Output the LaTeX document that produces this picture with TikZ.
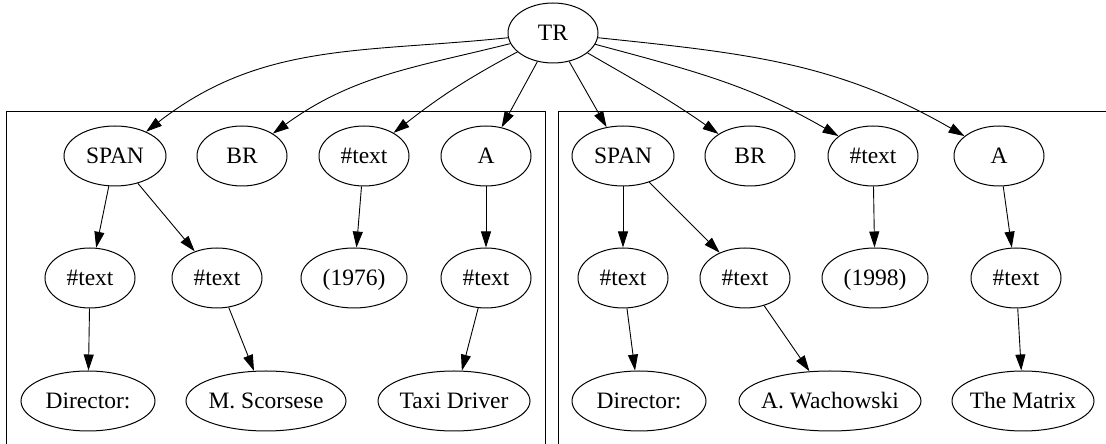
\documentclass[tikz,border=0pt]{standalone}
\usepackage{fontspec}
\setmainfont{LiberationSerif}[Extension=.ttf, UprightFont=*-Regular, BoldFont=*-Bold]
\usetikzlibrary{shapes.geometric,arrows.meta}
% label inside an ellipse: zero width so the ellipse size is set by minimum width only
\newcommand\lbltext[1]{\makebox[0pt]{#1}}
\begin{document}
\begin{tikzpicture}[x=1pt,y=1pt,
  vert/.style={ellipse, draw, line width=1pt, minimum height=60pt, inner sep=0pt,
    font=\fontsize{23.5}{27}\selectfont, text height=15.5pt, text depth=0pt},
  link/.style={line width=0.9pt, -{Triangle[length=16pt,width=10pt]}},
  cluster/.style={line width=1pt}]
\useasboundingbox (0,0) rectangle (1106,444);
\fill[white] (0,0) rectangle (1106,444);
\clip (0,0) rectangle (1106,444);

% clusters
\draw[cluster] (6,-5) rectangle (545,332);
\draw[cluster] (558,-5) rectangle (1120,332);

% root
\node[vert, minimum width=90pt] (tr) at (553,411) {\lbltext{TR}};

% first cluster
\node[vert, minimum width=102pt] (spanL) at (115,288) {\lbltext{SPAN}};
\node[vert, minimum width=90pt]  (brL)   at (242,288) {\lbltext{BR}};
\node[vert, minimum width=90pt]  (txtL)  at (364,288) {\lbltext{\#text}};
\node[vert, minimum width=90pt]  (aL)    at (486,288) {\lbltext{A}};
\node[vert, minimum width=90pt]  (saL)   at (90,166)  {\lbltext{\#text}};
\node[vert, minimum width=90pt]  (sbL)   at (217,166) {\lbltext{\#text}};
\node[vert, minimum width=106pt] (yrL)   at (354,166) {\lbltext{(1976)}};
\node[vert, minimum width=90pt]  (atL)   at (486,166) {\lbltext{\#text}};
\node[vert, minimum width=134pt] (dirL)  at (88,43)   {\lbltext{Director:}};
\node[vert, minimum width=160pt] (nameL) at (266,43)  {\lbltext{M. Scorsese}};
\node[vert, minimum width=152pt] (ttlL)  at (454,43)  {\lbltext{Taxi Driver}};

% second cluster
\node[vert, minimum width=102pt] (spanR) at (623,288) {\lbltext{SPAN}};
\node[vert, minimum width=90pt]  (brR)   at (750,288) {\lbltext{BR}};
\node[vert, minimum width=90pt]  (txtR)  at (873,288) {\lbltext{\#text}};
\node[vert, minimum width=90pt]  (aR)    at (999,288) {\lbltext{A}};
\node[vert, minimum width=90pt]  (saR)   at (623,166) {\lbltext{\#text}};
\node[vert, minimum width=90pt]  (sbR)   at (745,166) {\lbltext{\#text}};
\node[vert, minimum width=106pt] (yrR)   at (875,166) {\lbltext{(1998)}};
\node[vert, minimum width=90pt]  (atR)   at (1016,166) {\lbltext{\#text}};
\node[vert, minimum width=134pt] (dirR)  at (639,43)  {\lbltext{Director:}};
\node[vert, minimum width=182pt] (nameR) at (830,43)  {\lbltext{A. Wachowski}};
\node[vert, minimum width=142pt] (ttlR)  at (1023,43) {\lbltext{The Matrix}};

% edges from the root
\draw[link] (tr) to[out=186,in=38]  (spanL);
\draw[link] (tr) to[out=194,in=36]  (brL);
\draw[link] (tr) to[out=208,in=38]  (txtL);
\draw[link] (tr) -- (aL);
\draw[link] (tr) -- (spanR);
\draw[link] (tr) to[out=330,in=145] (brR);
\draw[link] (tr) to[out=345,in=150] (txtR);
\draw[link] (tr) to[out=354,in=150] (aR);

% edges inside the clusters
\draw[link] (spanL) -- (saL);
\draw[link] (spanL) -- (sbL);
\draw[link] (txtL) -- (yrL);
\draw[link] (aL) -- (atL);
\draw[link] (saL) -- (dirL);
\draw[link] (sbL) -- (nameL);
\draw[link] (atL) -- (ttlL);

\draw[link] (spanR) -- (saR);
\draw[link] (spanR) -- (sbR);
\draw[link] (txtR) -- (yrR);
\draw[link] (aR) -- (atR);
\draw[link] (saR) -- (dirR);
\draw[link] (sbR) -- (nameR);
\draw[link] (atR) -- (ttlR);
\end{tikzpicture}
\end{document}
